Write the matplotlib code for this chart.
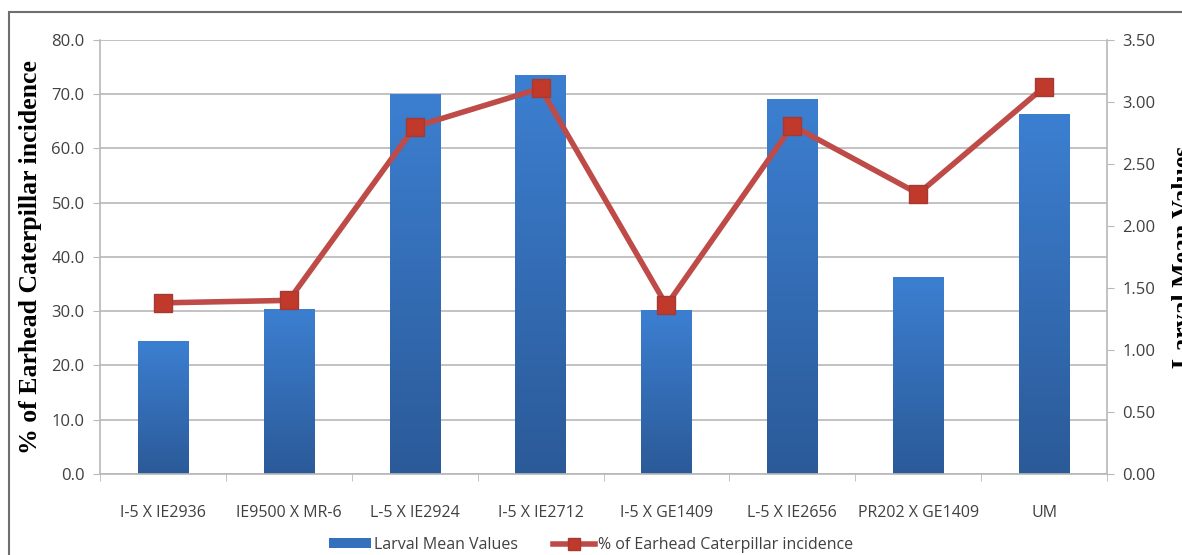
import numpy as np
import matplotlib.pyplot as plt
from matplotlib.patches import Rectangle
from matplotlib.lines import Line2D
from matplotlib.colors import LinearSegmentedColormap

categories = ["I-5 X IE2936", "IE9500 X MR-6", "L-5 X IE2924", "I-5 X IE2712",
              "I-5 X GE1409", "L-5 X IE2656", "PR202 X GE1409", "UM"]
larval_mean = [24.5, 30.4, 69.9, 73.4, 30.1, 69.1, 36.3, 66.2]
incidence = [1.38, 1.40, 2.80, 3.11, 1.36, 2.81, 2.26, 3.12]
left_ticks = [0, 10, 20, 30, 40, 50, 60, 70, 80]
right_ticks = [0, 0.5, 1.0, 1.5, 2.0, 2.5, 3.0, 3.5]

tick_font = "Open Sans"
label_font = "Liberation Serif"
txt = "#404040"
grid = "#b8b8b8"

fig = plt.figure(figsize=(11.82, 5.55), dpi=100)
ax = fig.add_axes([0.0846, 0.146, 0.8520, 0.782])

x = np.arange(len(categories))
w = 0.40
bars = ax.bar(x, larval_mean, width=w, color="#3570bd", zorder=2)

# vertical gradient inside each bar
grad = np.linspace(0, 1, 256).reshape(-1, 1)
cmap = LinearSegmentedColormap.from_list("b", ["#2b5a98", "#3c7fd1"])
for b in bars:
    b.set_facecolor("none")
    ax.imshow(grad, cmap=cmap, aspect="auto", origin="lower",
              extent=[b.get_x(), b.get_x() + b.get_width(), 0, b.get_height()],
              zorder=2)
ax.set_xlim(-0.5, len(categories) - 0.5)
ax.set_ylim(0, 80)
ax.set_yticks(left_ticks)
ax.set_yticklabels([f"{v:.1f}" for v in left_ticks], fontfamily=tick_font,
                   fontsize=12, color=txt)
ax.yaxis.grid(True, color=grid, linewidth=1.2, zorder=0)
ax.set_axisbelow(True)
ax.set_xticks(x)
ax.set_xticklabels(categories, fontfamily=tick_font, fontsize=11.5, color=txt)
ax.set_xticks(np.arange(-0.5, len(categories)), minor=True)
ax.tick_params(axis="x", which="major", length=0, pad=22)
ax.tick_params(axis="x", which="minor", length=5, color=grid)
ax.tick_params(axis="y", length=5, color=grid, pad=6)
for s in ["top", "right"]:
    ax.spines[s].set_visible(False)
for s in ["left", "bottom"]:
    ax.spines[s].set_color(grid)
    ax.spines[s].set_linewidth(1.2)
ax.set_ylabel("% of Earhead Caterpillar incidence", fontfamily=label_font,
              fontweight="bold", fontsize=18.5, color="black", labelpad=7)

ax2 = ax.twinx()
ax2.plot(x, incidence, color="#be4b48", linewidth=4, marker="s",
         markersize=13, markerfacecolor="#c0392b", markeredgecolor="#a33a36",
         markeredgewidth=1, zorder=5)
ax2.set_ylim(0, 3.5)
ax2.set_yticks(right_ticks)
ax2.set_yticklabels([f"{v:.2f}" for v in right_ticks], fontfamily=tick_font,
                    fontsize=12, color=txt)
ax2.tick_params(axis="y", length=5, color=grid, pad=6)
for s in ["top", "left", "bottom"]:
    ax2.spines[s].set_visible(False)
ax2.spines["right"].set_color(grid)
ax2.spines["right"].set_linewidth(1.2)
ax2.set_ylabel("Larval Mean Values", fontfamily=label_font, fontweight="bold",
               fontsize=18.5, color="black", rotation=90, labelpad=12)

handles = [Rectangle((0, 0), 1, 1, facecolor="#3570bd"),
           Line2D([], [], color="#be4b48", linewidth=4, marker="s",
                  markersize=9, markerfacecolor="#c0392b",
                  markeredgecolor="#a33a36")]
fig.legend(handles, ["Larval Mean Values", "% of Earhead Caterpillar incidence"],
           loc="center", bbox_to_anchor=(0.5, 0.018), ncol=2, frameon=False,
           prop={"family": tick_font, "size": 11.5}, handlelength=2.6,
           handleheight=0.6, handletextpad=0.2, columnspacing=2.2,
           labelcolor=txt)

fig.patches.append(Rectangle((9 / 1182, -0.1), 1.2, 1.1 - 12 / 555,
                             transform=fig.transFigure, fill=False,
                             edgecolor="#6f6f6f", linewidth=1.5))

fig.savefig("out.png", dpi=100)
